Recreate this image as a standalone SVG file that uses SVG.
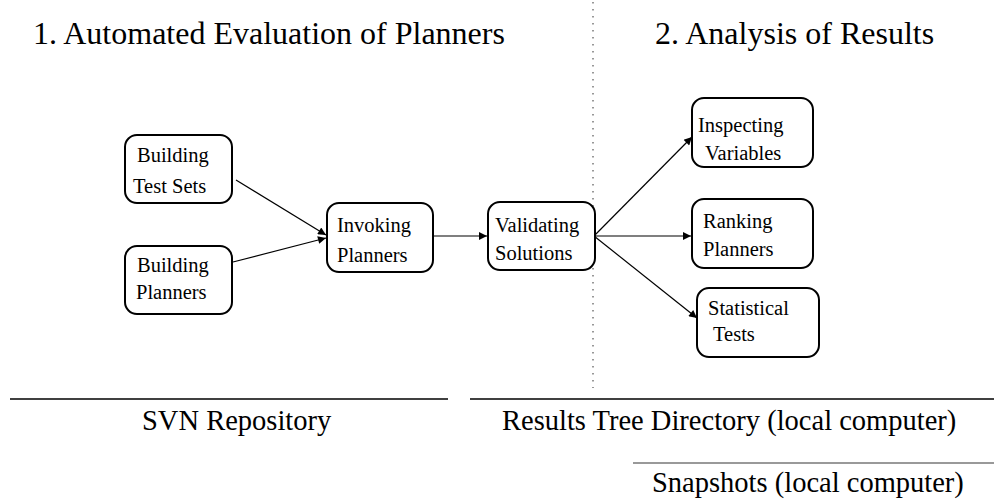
<svg xmlns="http://www.w3.org/2000/svg" width="994" height="500" viewBox="0 0 994 500">
<style>
text{font-family:"Liberation Serif","Times New Roman",serif;fill:#000}
.title{font-size:32px}
.lbl{font-size:20.5px}
.bot{font-size:28.5px}
.box{fill:#fff;stroke:#000;stroke-width:2}
.edge{stroke:#000;stroke-width:1.2;fill:none;marker-end:url(#ah)}
</style>
<defs>
<marker id="ah" viewBox="0 0 10 10" refX="10" refY="5" markerWidth="18" markerHeight="8" markerUnits="userSpaceOnUse" orient="auto">
<path d="M0,0 L10,5 L0,10 z" fill="#000"/>
</marker>
</defs>
<rect width="994" height="500" fill="#fff"/>
<text class="title" x="33" y="44">1. Automated Evaluation of Planners</text>
<text class="title" x="655" y="44">2. Analysis of Results</text>
<line x1="593" y1="2" x2="593" y2="388" stroke="#777" stroke-width="1.5" stroke-dasharray="1.5,5.5"/>

<g id="connectors">
<line class="edge" x1="236" y1="180" x2="326" y2="235"/>
<line class="edge" x1="233" y1="262" x2="326" y2="238"/>
<line class="edge" x1="433" y1="236" x2="487" y2="236"/>
<line class="edge" x1="594" y1="236" x2="692" y2="137"/>
<line class="edge" x1="594" y1="236" x2="691" y2="236"/>
<line class="edge" x1="594" y1="236" x2="697" y2="318"/>
</g>

<g id="building-test-sets">
<rect class="box" x="125" y="135" width="107" height="68" rx="12"/>
<text class="lbl" x="137" y="162">Building</text>
<text class="lbl" x="133" y="193">Test Sets</text>
</g>
<g id="building-planners">
<rect class="box" x="125" y="246" width="107" height="68" rx="12"/>
<text class="lbl" x="137" y="272">Building</text>
<text class="lbl" x="136" y="299">Planners</text>
</g>
<g id="invoking-planners">
<rect class="box" x="327" y="203" width="106" height="69" rx="12"/>
<text class="lbl" x="337" y="232">Invoking</text>
<text class="lbl" x="337" y="262">Planners</text>
</g>
<g id="validating-solutions">
<rect class="box" x="488" y="202" width="107" height="68" rx="12"/>
<text class="lbl" x="495" y="232">Validating</text>
<text class="lbl" x="495" y="260">Solutions</text>
</g>
<g id="inspecting-variables">
<rect class="box" x="692" y="98" width="121" height="69" rx="12"/>
<text class="lbl" x="698" y="132">Inspecting</text>
<text class="lbl" x="705" y="160">Variables</text>
</g>
<g id="ranking-planners">
<rect class="box" x="692" y="199" width="121" height="69" rx="12"/>
<text class="lbl" x="703" y="228">Ranking</text>
<text class="lbl" x="703" y="256">Planners</text>
</g>
<g id="statistical-tests">
<rect class="box" x="697" y="288" width="122" height="69" rx="12"/>
<text class="lbl" x="708" y="315">Statistical</text>
<text class="lbl" x="713" y="341">Tests</text>
</g>

<line x1="10" y1="399" x2="448" y2="399" stroke="#000" stroke-width="1.5"/>
<line x1="470" y1="399" x2="994" y2="399" stroke="#000" stroke-width="1.5"/>
<line x1="633" y1="463" x2="994" y2="463" stroke="#777" stroke-width="1.5"/>
<text class="bot" x="142" y="430">SVN Repository</text>
<text class="bot" x="502" y="430">Results Tree Directory (local computer)</text>
<text class="bot" x="652" y="492">Snapshots (local computer)</text>
</svg>
